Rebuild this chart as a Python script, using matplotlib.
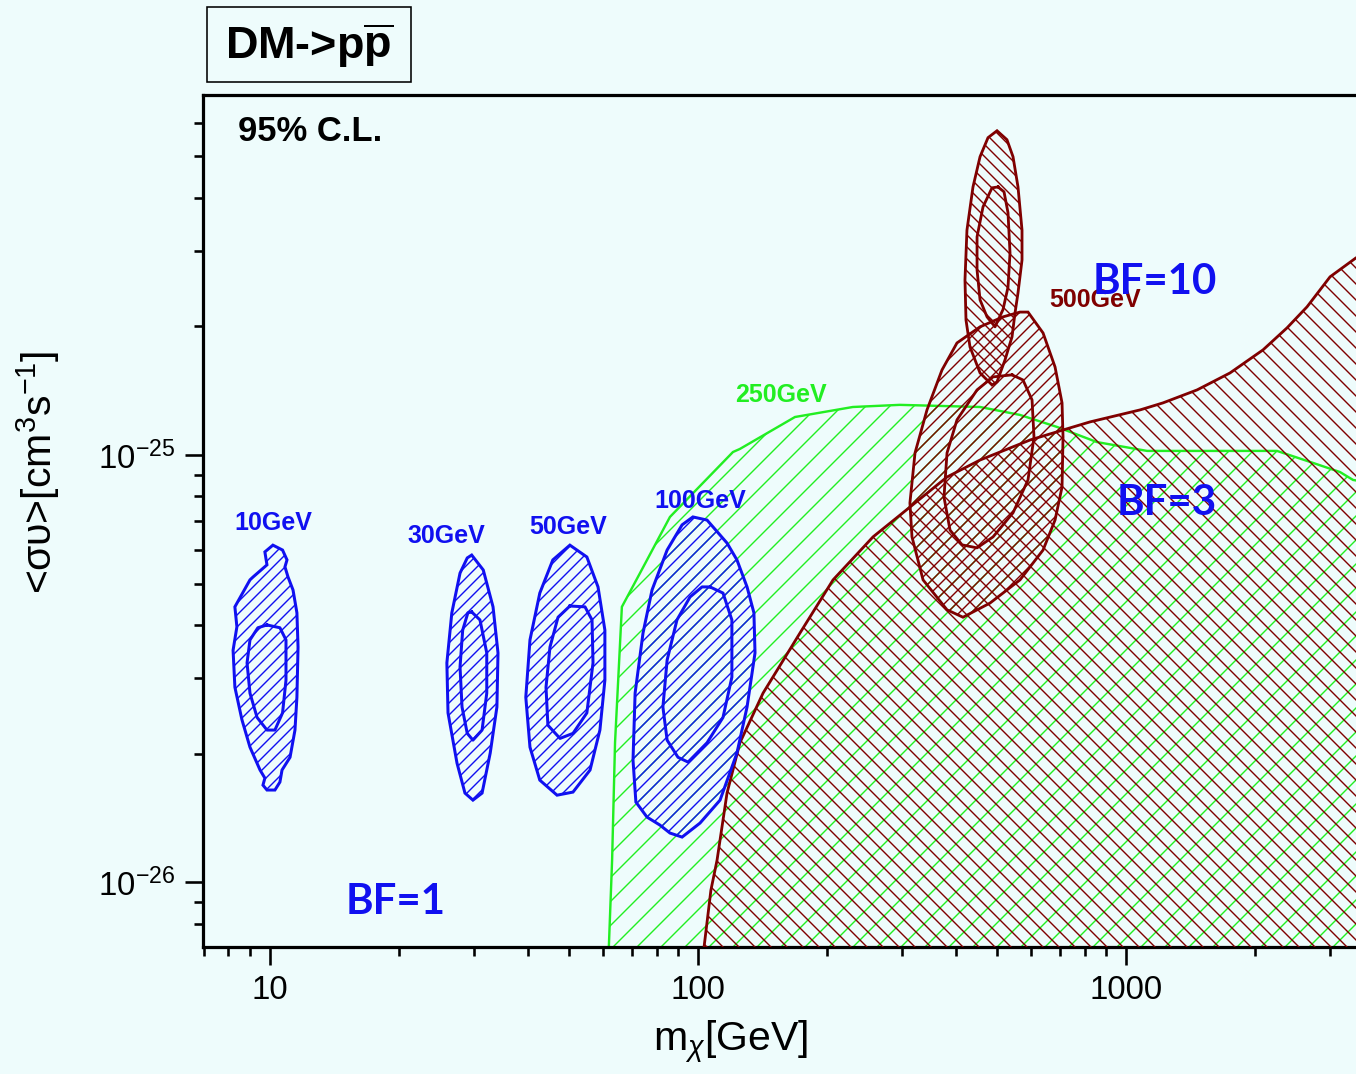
import numpy as np
import matplotlib
matplotlib.use("Agg")
import matplotlib.pyplot as plt
from matplotlib import ticker
from matplotlib.patches import Rectangle

plt.rcParams['font.family'] = ['Liberation Sans', 'DejaVu Sans']
plt.rcParams['mathtext.fontset'] = 'custom'
plt.rcParams['mathtext.rm'] = 'Liberation Sans'
plt.rcParams['mathtext.it'] = 'Liberation Sans:italic'
plt.rcParams['mathtext.bf'] = 'Liberation Sans:bold'
plt.rcParams['axes.unicode_minus'] = False
plt.rcParams['hatch.linewidth'] = 0.7

BG    = '#EEFCFC'
BLUE  = '#1010F0'
GREEN = '#22EE22'
RED   = '#7F0000'

# masses in GeV, <sigma v> in units of 1e-26 cm^3/s
# BF=1 contours (blue), outer = 95%, inner = 68%
m10_out = [10.16, 10.7, 10.96, 10.84, 11.02, 11.32, 11.56, 11.63, 11.56, 11.44, 11.14, 10.67, 10.55, 10.27,
           9.84, 9.63, 9.73, 9.48, 8.98, 8.60, 8.28, 8.20, 8.37, 8.28, 8.98, 9.13, 9.84, 9.73]
s10_out = [6.15, 5.99, 5.68, 5.47, 5.18, 4.83, 4.27, 3.55, 2.71, 2.27, 1.96, 1.83, 1.715, 1.643,
           1.643, 1.687, 1.752, 1.83, 2.07, 2.40, 2.86, 3.49, 3.96, 4.41, 5.10, 5.18, 5.53, 5.93]
m10_in = [9.84, 10.55, 10.90, 10.90, 10.7, 10.27, 9.84, 9.33, 8.98, 8.84, 8.98, 9.37]
s10_in = [4.00, 3.94, 3.69, 2.97, 2.49, 2.27, 2.27, 2.43, 2.77, 3.26, 3.69, 3.94]

m30_out = [29.6, 31.5, 33.2, 34.1, 33.9, 32.7, 31.3, 29.8, 28.55, 27.35, 26.06, 25.9, 26.6, 27.8, 28.9]
s30_out = [5.83, 5.38, 4.41, 3.44, 2.57, 2.005, 1.616, 1.556, 1.616, 1.90, 2.49, 3.26, 4.27, 5.29, 5.74]
m30_in = [29.6, 30.95, 32.1, 32.1, 31.3, 29.8, 28.9, 28.1, 27.8, 28.2, 29.0]
s30_in = [4.29, 4.11, 3.44, 2.77, 2.27, 2.15, 2.23, 2.57, 3.19, 3.89, 4.27]

m50_out = [50.2, 55.0, 58.4, 60.6, 60.6, 59.0, 55.95, 51.05, 46.85, 42.7, 40.5, 39.6, 40.5, 42.7, 45.8]
s50_out = [6.15, 5.77, 4.91, 3.89, 2.97, 2.27, 1.83, 1.625, 1.598, 1.733, 2.07, 2.71, 3.69, 4.75, 5.68]
m50_in = [50.2, 54.45, 56.55, 56.85, 55.0, 51.05, 47.6, 44.6, 44.15, 45.1, 47.1]
s50_in = [4.43, 4.41, 4.11, 3.26, 2.49, 2.23, 2.17, 2.33, 2.86, 3.55, 4.17]

m100_out = [97.3, 105, 116.9, 123.3, 130.2, 135.1, 135.9, 130.2, 123.3, 112.6, 101.1, 91.8, 86.0, 81.5,
            76.0, 71.6, 70.5, 71.3, 74.4, 78.1, 84.7, 91.8]
s100_out = [7.16, 7.04, 6.22, 5.68, 4.91, 4.27, 3.44, 2.57, 2.005, 1.556, 1.375, 1.275, 1.303, 1.36,
            1.42, 1.54, 1.93, 2.77, 3.83, 4.83, 5.99, 6.86]
m100_in = [106.7, 114.4, 120.0, 120.0, 114.4, 105, 94.8, 89.8, 84.7, 82.8, 84.7, 89.3, 95.8, 102.2]
s100_in = [4.91, 4.75, 4.11, 3.02, 2.43, 2.12, 1.91, 1.96, 2.15, 2.57, 3.31, 4.11, 4.65, 4.91]

# BF=3 region (250 GeV, green)
m_bf3 = [61.9, 61.9, 63.0, 64.0, 66.4, 73.2, 86.0, 120.7, 125.3, 168.5, 230, 296, 456, 565, 690, 855,
         1120, 1597, 2253, 2735, 3162, 3392, 5000, 5000]
s_bf3 = [0.4, 0.704, 1.126, 2.12, 4.41, 5.29, 7.16, 10.16, 10.33, 12.27, 12.95, 13.1, 12.95, 12.41, 11.63, 10.72,
         10.22, 10.22, 10.22, 9.58, 9.12, 8.74, 8.2, 0.4]

# BF=10 region (dark red)
m_bf10 = [102.5, 103.3, 107.2, 110.8, 116.9, 125.3, 141.9, 173.1, 206.8, 256.4, 312.7, 381.8, 456, 596.8,
          712.6, 824, 1079, 1220, 1466, 1750, 2090, 2378, 2648, 2997, 3446, 5000, 5000]
s_bf10 = [0.4, 0.704, 0.958, 1.126, 1.616, 2.12, 2.77, 3.83, 5.10, 6.43, 7.55, 8.88, 9.73, 10.84,
          11.44, 11.95, 12.75, 13.24, 14.2, 15.56, 17.62, 19.84, 22.22, 26.12, 28.93, 34.0, 0.4]

# 500 GeV contours (dark red), upper pair and lower pair
m500a_out = [499.6, 527, 544.5, 559.3, 571.5, 571.5, 559.3, 550.4, 541.6, 521.6, 499.6, 486.4, 456, 432,
             422.8, 420.5, 425, 439, 456, 476]
s500a_out = [57.4, 54.7, 49.9, 42.4, 33.6, 28.6, 23.96, 21.5, 18.9, 16.7, 14.83, 14.58, 15.56, 17.9,
             20.7, 25.7, 33.6, 42.4, 49.9, 55.3]
m500a_in = [502.3, 518.8, 530, 535.8, 530, 516, 494.3, 473.5, 456, 448.7, 448.7, 463.4, 486.4]
s500a_in = [42.4, 41.3, 36.9, 29.7, 24.7, 21.9, 19.95, 21.05, 23.07, 27.1, 32.4, 38.1, 42.2]

m500b_out = [565.4, 590.2, 640, 682.6, 708.8, 712.6, 708.8, 682.6, 640, 565.4, 481, 416, 381.8, 335.6,
             316.2, 312.7, 321.4, 342.8, 371.6, 402.8, 456, 516]
s500b_out = [21.6, 21.6, 19.3, 16.07, 13.24, 11.02, 8.41, 7.04, 5.99, 5.10, 4.50, 4.17, 4.34, 5.10,
             6.43, 7.72, 10.11, 12.75, 15.81, 18.29, 19.95, 21.05]
m500b_in = [541.6, 574.5, 603.2, 609.5, 590.2, 544.5, 489, 448.7, 414, 388, 375.6, 381.8, 402.8, 448.7, 489]
s500b_in = [15.4, 14.98, 13.45, 11.02, 8.74, 7.32, 6.43, 6.06, 6.16, 6.67, 7.97, 10.11, 12.08, 14.2, 15.23]


def closed(m, s):
    return np.append(m, m[0]), np.append(s, s[0]) * 1e-26


fig = plt.figure(figsize=(1356 / 144, 1074 / 144), dpi=144, facecolor=BG)
ax = fig.add_axes([203 / 1356, 1 - 947 / 1074, 1 - 203 / 1356, (947 - 95) / 1074])
ax.set_facecolor(BG)

ax.fill(m_bf3, np.array(s_bf3) * 1e-26, facecolor='none', edgecolor=GREEN, hatch='//', lw=1.2, zorder=2)
ax.fill(m_bf10, np.array(s_bf10) * 1e-26, facecolor='none', edgecolor=RED, hatch='\\\\\\', lw=1.4, zorder=3)

ax.fill(m500a_out, np.array(s500a_out) * 1e-26, facecolor='none', edgecolor=RED, hatch='\\\\\\\\', lw=1.4, zorder=4)
ax.plot(*closed(m500a_in, s500a_in), color=RED, lw=1.4, zorder=4)
ax.fill(m500b_out, np.array(s500b_out) * 1e-26, facecolor='none', edgecolor=RED, hatch='////', lw=1.4, zorder=4)
ax.plot(*closed(m500b_in, s500b_in), color=RED, lw=1.4, zorder=4)

for mo, so, mi, si in [(m10_out, s10_out, m10_in, s10_in), (m30_out, s30_out, m30_in, s30_in),
                       (m50_out, s50_out, m50_in, s50_in), (m100_out, s100_out, m100_in, s100_in)]:
    ax.fill(mo, np.array(so) * 1e-26, facecolor='none', edgecolor=BLUE, hatch='////', lw=1.5, zorder=5)
    ax.plot(*closed(mi, si), color=BLUE, lw=1.5, zorder=5)

ax.set_xscale('log')
ax.set_yscale('log')
ax.set_xlim(6.975, 3446)
ax.set_ylim(7.05e-27, 6.96e-25)

ax.set_xticks([10, 100, 1000], ['10', '100', '1000'])
ax.xaxis.set_minor_locator(ticker.LogLocator(base=10, subs=np.arange(2, 10)))
ax.xaxis.set_minor_formatter(ticker.NullFormatter())
ax.yaxis.set_major_locator(ticker.LogLocator(base=10))
ax.yaxis.set_minor_locator(ticker.LogLocator(base=10, subs=np.arange(2, 10)))
ax.yaxis.set_minor_formatter(ticker.NullFormatter())
ax.tick_params(which='major', direction='out', length=9, width=1.3, labelsize=16.5, pad=5)
ax.tick_params(which='minor', direction='out', length=4.5, width=1.3)
ax.tick_params(top=False, right=False)
for side in ['left', 'bottom', 'top']:
    ax.spines[side].set_linewidth(1.6)
ax.spines['right'].set_visible(False)

ax.set_xlabel(r'm$_{\chi}$[GeV]', fontsize=20.5)
ax.xaxis.set_label_coords(0.458, -0.085)
ax.set_ylabel(r'<συ>[cm$^{3}$s$^{-1}$]', fontsize=20.5)
ax.yaxis.set_label_coords(-0.122, 0.5575)

lab = dict(fontweight='bold', ha='center', va='center', fontsize=12.5, zorder=6)
ax.text(10.16, 6.93e-26, '10GeV', color=BLUE, **lab)
ax.text(25.8, 6.46e-26, '30GeV', color=BLUE, **lab)
ax.text(49.7, 6.78e-26, '50GeV', color=BLUE, **lab)
ax.text(101, 7.8e-26, '100GeV', color=BLUE, **lab)
ax.text(156.3, 1.38e-25, '250GeV', color=GREEN, **lab)
ax.text(846.6, 2.307e-25, '500GeV', color=RED, **lab)

bf = dict(fontweight='bold', ha='center', va='center', fontsize=21, color=BLUE,
          family=['Lato', 'DejaVu Sans'], zorder=6)
ax.text(1169, 2.54e-25, 'BF=10', **bf)
ax.text(1247, 7.72e-26, 'BF=3', **bf)
ax.text(19.7, 8.97e-27, 'BF=1', **bf)

ax.text(0.030, 0.957, '95% C.L.', transform=ax.transAxes, fontsize=17.3, fontweight='bold',
        ha='left', va='center')

fig.patches.append(Rectangle((207 / 1356, 1 - 82 / 1074), 204 / 1356, 75 / 1074, transform=fig.transFigure,
                             facecolor=BG, edgecolor='black', lw=0.8))
fig.text(309 / 1356, 1 - 46 / 1074, r'DM->p$\overline{\mathbf{p}}$', fontsize=22.5, fontweight='bold',
         ha='center', va='center')

fig.savefig('out.png', dpi=144, facecolor=BG)
